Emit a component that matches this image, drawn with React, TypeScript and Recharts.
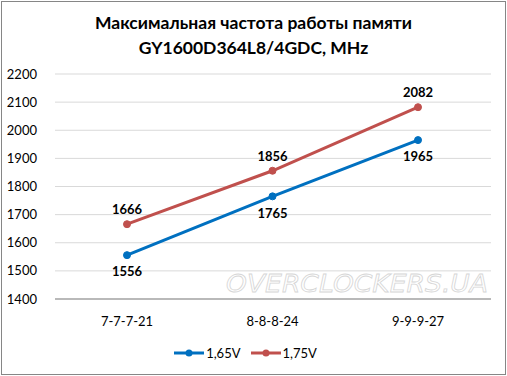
import React from 'react';
import { LineChart, Line, XAxis, YAxis, CartesianGrid, LabelList, Legend } from 'recharts';

const categories = ['7-7-7-21', '8-8-8-24', '9-9-9-27'];
const v165 = [1556, 1765, 1965];
const v175 = [1666, 1856, 2082];
const yTicks = [1400, 1500, 1600, 1700, 1800, 1900, 2000, 2100, 2200];

const BLUE = '#0070C0';
const RED = '#C0504D';
const FONT = 'Lato, "Open Sans", sans-serif';

const data = categories.map((c, i) => ({ cat: c, a: v165[i], b: v175[i] }));

const series = [
  { key: 'a', name: '1,65V', color: BLUE },
  { key: 'b', name: '1,75V', color: RED },
];

function LegendBox() {
  return (
    <div style={{ display: 'flex', justifyContent: 'center', gap: 10, fontFamily: FONT, fontSize: 13, color: '#000' }}>
      {series.map((s) => (
        <div key={s.key} style={{ display: 'flex', alignItems: 'center', gap: 2 }}>
          <svg width={30} height={10}>
            <line x1={0} y1={5} x2={30} y2={5} stroke={s.color} strokeWidth={3} />
            <circle cx={15} cy={5} r={3.5} fill={s.color} />
          </svg>
          <span>{s.name}</span>
        </div>
      ))}
    </div>
  );
}

export default function App() {
  return (
    <div style={{ position: 'absolute', left: 0, top: 0, width: 507, height: 376, background: '#fff' }}>
      <div
        style={{
          position: 'absolute', left: 1, top: 1, width: 503, height: 372,
          border: '1px solid #868686', boxSizing: 'content-box',
        }}
      />
      <div
        style={{
          position: 'absolute', left: 0, top: 10, width: 507, textAlign: 'center',
          fontFamily: FONT, fontWeight: 'bold', fontSize: 17.5, lineHeight: '25px', color: '#000',
        }}
      >
        Максимальная частота работы памяти
        <br />
        GY1600D364L8/4GDC, MHz
      </div>
      <svg style={{ position: 'absolute', left: 0, top: 0 }} width={507} height={376}>
        <text
          x={226} y={292} textLength={262} lengthAdjust="spacingAndGlyphs"
          fontFamily='"DejaVu Sans", sans-serif' fontStyle="italic" fontSize={25}
          fill="#fff" stroke="#d6d6d6" strokeWidth={0.8}
        >
          OVERCLOCKERS.UA
        </text>
      </svg>
      <div style={{ position: 'absolute', left: 0, top: 0 }}>
        <LineChart width={507} height={376} data={data} margin={{ top: 74, right: 16, bottom: 31, left: 0 }}>
          <CartesianGrid vertical={false} stroke="#d9d9d9" strokeWidth={1} />
          <XAxis
            dataKey="cat" axisLine={{ stroke: '#868686' }} tickLine={false} padding={{ left: 72, right: 73 }}
            tick={{ fill: '#000', fontSize: 13, fontFamily: FONT }} tickMargin={12}
          />
          <YAxis
            width={55} domain={[1400, 2200]} ticks={yTicks} axisLine={false} tickLine={false}
            tick={{ fill: '#000', fontSize: 13, fontFamily: FONT }} tickMargin={12} interval={0}
          />
          <Legend verticalAlign="bottom" content={<LegendBox />} wrapperStyle={{ bottom: 15 }} />
          <Line
            dataKey="a" name="1,65V" stroke={BLUE} strokeWidth={3}
            dot={{ r: 3.5, fill: BLUE, stroke: BLUE, strokeWidth: 1 }} isAnimationActive={false}
          >
            <LabelList dataKey="a" position="bottom" offset={12} fill="#000" fontWeight="bold" fontSize={13} fontFamily={FONT} />
          </Line>
          <Line
            dataKey="b" name="1,75V" stroke={RED} strokeWidth={3}
            dot={{ r: 3.5, fill: RED, stroke: RED, strokeWidth: 1 }} isAnimationActive={false}
          >
            <LabelList dataKey="b" position="top" offset={10} fill="#000" fontWeight="bold" fontSize={13} fontFamily={FONT} />
          </Line>
        </LineChart>
      </div>
    </div>
  );
}
